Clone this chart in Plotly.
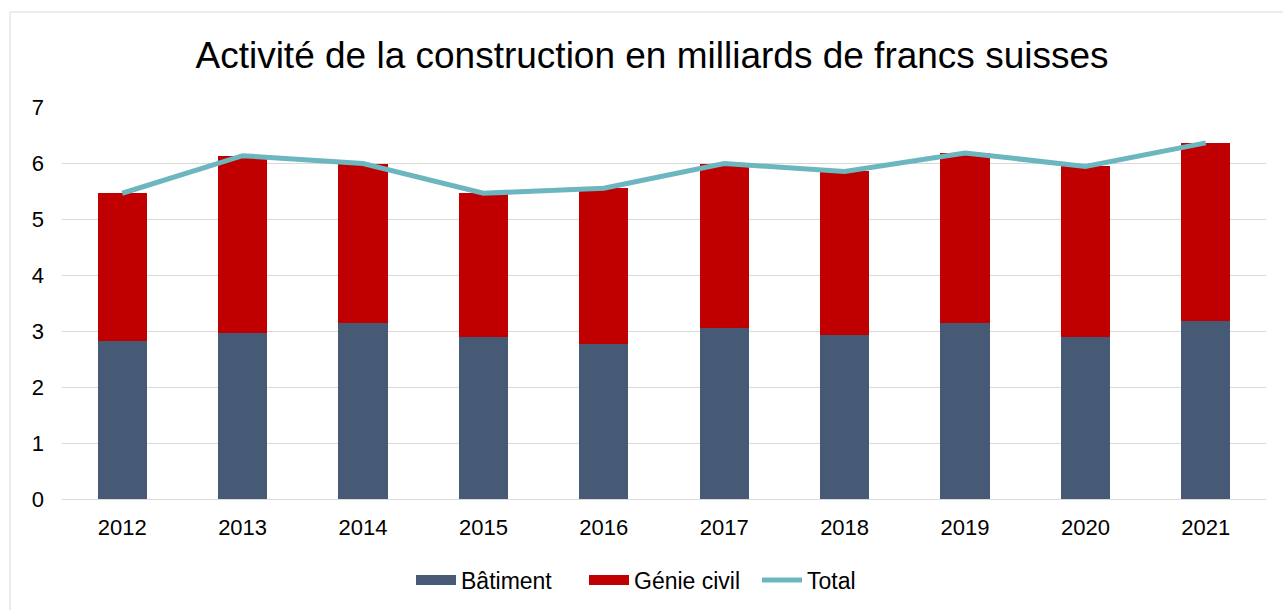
import plotly.graph_objects as go

years = ["2012", "2013", "2014", "2015", "2016", "2017", "2018", "2019", "2020", "2021"]
batiment = [2.83, 2.97, 3.15, 2.90, 2.77, 3.05, 2.93, 3.14, 2.89, 3.18]
genie_civil = [2.63, 3.16, 2.84, 2.56, 2.78, 2.94, 2.92, 3.04, 3.05, 3.18]
total = [5.46, 6.13, 5.99, 5.46, 5.55, 5.99, 5.85, 6.18, 5.94, 6.36]
y_ticks = [0, 1, 2, 3, 4, 5, 6, 7]

FONT = "Liberation Sans, Arial, sans-serif"
C_BAT, C_GC, C_TOT = "#465A75", "#C00000", "#6CB6BF"

fig = go.Figure()
fig.add_trace(go.Bar(x=years, y=batiment, name="Bâtiment", showlegend=False,
                     marker=dict(color=C_BAT, line=dict(width=0))))
fig.add_trace(go.Bar(x=years, y=genie_civil, name="Génie civil", showlegend=False,
                     marker=dict(color=C_GC, line=dict(width=0))))
fig.add_trace(go.Scatter(x=years, y=total, name="Total", mode="lines", showlegend=False,
                         line=dict(color=C_TOT, width=5)))
# legend-only entries (wide swatches like the original)
for nm, col, w in [("Bâtiment", C_BAT, 12), ("Génie civil", C_GC, 12), ("Total", C_TOT, 5)]:
    fig.add_trace(go.Scatter(x=[None], y=[None], name=nm, mode="lines",
                             line=dict(color=col, width=w), hoverinfo="skip"))

W, H = 1283, 610
L, R, T, B = 62, 17, 107, 111
pw, ph = W - L - R, H - T - B

def px_x(p):
    return (p - L) / pw

def px_y(p):
    return (H - B - p) / ph

fig.update_layout(
    width=W, height=H,
    margin=dict(l=L, r=R, t=T, b=B, autoexpand=False),
    paper_bgcolor="white", plot_bgcolor="white",
    barmode="stack", bargap=0.59,
    font=dict(family=FONT, size=22, color="#000000"),
    title=dict(text="Activité de la construction en milliards de francs suisses",
               x=652 / W, xanchor="center", xref="container",
               y=1 - 55 / H, yanchor="middle", yref="container",
               font=dict(family=FONT, size=37, color="#000000")),
    xaxis=dict(showgrid=False, showline=False, ticks="", ticklabelstandoff=13,
               tickfont=dict(size=22), automargin=False),
    yaxis=dict(range=[0, 7], tickvals=y_ticks, showgrid=True, gridcolor="#D9D9D9",
               gridwidth=1, zeroline=True, zerolinecolor="#D9D9D9", zerolinewidth=1,
               showline=False, ticks="", ticklabelstandoff=17, tickfont=dict(size=22),
               automargin=False),
    legend=dict(orientation="h", xref="container", yref="container",
                x=411 / W, xanchor="left", y=1 - 580 / H,
                yanchor="middle", font=dict(size=23), traceorder="normal",
                itemwidth=40, entrywidth=118, entrywidthmode="pixels"),
    shapes=[dict(type="rect", xref="paper", yref="paper",
                 x0=px_x(10), x1=px_x(1300), y0=px_y(625), y1=px_y(12),
                 line=dict(color="#D9D9D9", width=1), fillcolor="rgba(0,0,0,0)",
                 layer="below")],
)

fig.write_html("out.html", config={"displayModeBar": False},
               post_script="document.body.style.margin='0px';")
